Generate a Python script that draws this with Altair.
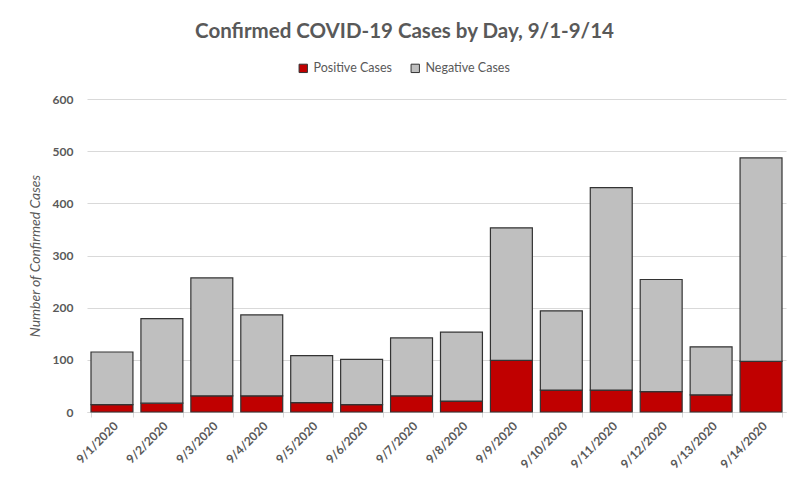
import altair as alt
import pandas as pd

dates = ["9/1/2020", "9/2/2020", "9/3/2020", "9/4/2020", "9/5/2020", "9/6/2020", "9/7/2020",
         "9/8/2020", "9/9/2020", "9/10/2020", "9/11/2020", "9/12/2020", "9/13/2020", "9/14/2020"]
positive = [14, 17, 31, 31, 18, 14, 31, 21, 99, 42, 42, 39, 33, 97]
negative = [101, 162, 226, 155, 90, 87, 111, 132, 254, 152, 388, 215, 92, 390]
series = ["Positive Cases", "Negative Cases"]
colors = ["#C00000", "#BFBFBF"]
y_ticks = [0, 100, 200, 300, 400, 500, 600]

rows = []
for d, p, n in zip(dates, positive, negative):
    rows.append({"date": d, "series": series[0], "value": p, "ord": 0})
    rows.append({"date": d, "series": series[1], "value": n, "ord": 1})
df = pd.DataFrame(rows)

GRAY = "#595959"
FONT = "Lato"

chart = alt.Chart(df).mark_bar(stroke="#333333", strokeWidth=1.2).encode(
    x=alt.X("date:N", sort=dates, title=None,
            scale=alt.Scale(paddingInner=0.16, paddingOuter=0.08),
            axis=alt.Axis(labelAngle=-45, labelFont=FONT, labelFontSize=12,
                          labelFontWeight="bold", labelColor=GRAY,
                          tickBand="extent", tickColor="#D9D9D9", tickSize=5,
                          domainColor="#D9D9D9", labelPadding=3, grid=False)),
    y=alt.Y("value:Q", stack="zero", title="Number of Confirmed Cases",
            scale=alt.Scale(domain=[0, 600], nice=False),
            axis=alt.Axis(values=y_ticks, grid=True, gridColor="#D9D9D9",
                          domain=False, ticks=False, labelPadding=14,
                          labelFont=FONT, labelFontSize=12, labelFontWeight="bold",
                          labelColor=GRAY, titleFont=FONT, titleFontSize=14,
                          titleFontStyle="italic", titleFontWeight="normal",
                          titleColor=GRAY, titlePadding=10)),
    color=alt.Color("series:N", sort=series,
                    scale=alt.Scale(domain=series, range=colors),
                    legend=alt.Legend(orient="none", legendX=210, legendY=-37,
                                      direction="horizontal", title=None,
                                      labelFont=FONT, labelFontSize=12.5,
                                      labelColor=GRAY, columnPadding=17,
                                      symbolType="square", symbolSize=70,
                                      symbolStrokeColor="#333333",
                                      symbolStrokeWidth=1, labelOffset=4)),
    order=alt.Order("ord:Q", sort="ascending"),
).properties(
    width=699, height=313,
    padding={"left": 79, "top": 91, "right": 2, "bottom": 68},
    autosize=alt.AutoSizeParams(type="none"),
    title=alt.TitleParams("Confirmed COVID-19 Cases by Day, 9/1-9/14",
                          font=FONT, fontSize=20.5, fontWeight="bold",
                          color=GRAY, anchor="middle", dx=-32, offset=20),
).configure_view(stroke=None)

chart.save("out.html", embed_options={"renderer": "svg", "actions": False})
